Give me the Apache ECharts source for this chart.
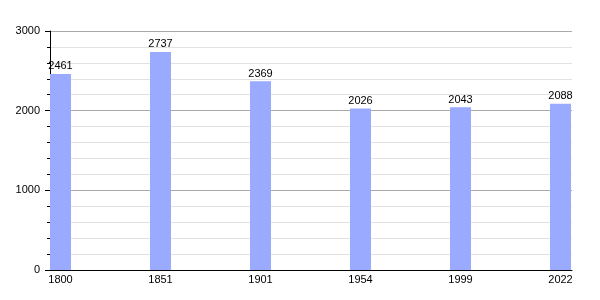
<!DOCTYPE html>
<html>
<head>
<meta charset="utf-8">
<script src="https://cdn.jsdelivr.net/npm/echarts@6/dist/echarts.min.js"></script>
<style>html,body{margin:0;padding:0;background:#fff}#c{width:600px;height:300px}</style>
</head>
<body>
<div id="c"></div>
<script>
const years = ['1800', '1851', '1901', '1954', '1999', '2022'];
const population = [2461, 2737, 2369, 2026, 2043, 2088];

const chart = echarts.init(document.getElementById('c'), null, {renderer: 'canvas'});
const font = 'Liberation Sans, Arial, sans-serif';
chart.setOption({
  animation: false,
  grid: {left: 50, right: 28, top: 31, bottom: 30, containLabel: false},
  xAxis: {
    type: 'value',
    min: -0.105,
    max: 5.115,
    axisLine: {show: true, onZero: false, lineStyle: {color: '#000', width: 1}},
    axisTick: {show: false},
    splitLine: {show: false},
    axisLabel: {
      customValues: years.map((_, i) => i),
      formatter: v => years[Math.round(v)],
      color: '#000', fontSize: 11, fontFamily: font, margin: 4
    }
  },
  yAxis: {
    type: 'value',
    min: 0, max: 3000, interval: 1000,
    axisLine: {show: true, onZero: false, lineStyle: {color: '#000', width: 1}},
    axisTick: {show: true, length: 5, lineStyle: {color: '#000'}},
    minorTick: {show: true, splitNumber: 5, length: 3, lineStyle: {color: '#000'}},
    splitLine: {show: true, lineStyle: {color: '#aaaaaa', width: 1}},
    minorSplitLine: {show: true, lineStyle: {color: '#e2e2e2', width: 1}},
    axisLabel: {color: '#000', fontSize: 11, fontFamily: font, margin: 10, formatter: v => String(v)}
  },
  series: [{
    type: 'bar',
    data: population.map((v, i) => [i, v]),
    barWidth: 21,
    itemStyle: {color: '#99aaff'},
    label: {show: true, position: 'top', distance: 2, color: '#000', fontSize: 11, fontFamily: font}
  }]
});
</script>
</body>
</html>
